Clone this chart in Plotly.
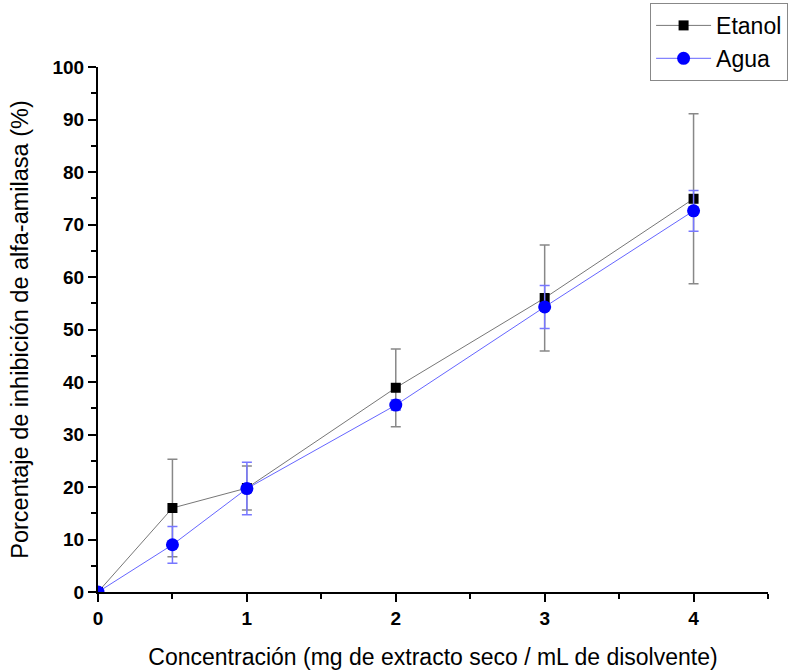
import plotly.graph_objects as go

x_vals = [0, 0.5, 1, 2, 3, 4]
etanol = [0, 16.0, 19.8, 38.9, 56.0, 74.9]
etanol_err = [0, 9.3, 4.2, 7.4, 10.1, 16.2]
agua = [0, 9.0, 19.7, 35.6, 54.3, 72.6]
agua_err = [0, 3.5, 5.0, 1.0, 4.1, 3.9]

x_ticks = [0, 1, 2, 3, 4]
y_ticks = [0, 10, 20, 30, 40, 50, 60, 70, 80, 90, 100]

fig = go.Figure()
fig.add_trace(go.Scatter(
    x=x_vals, y=etanol, name="Etanol", mode="lines+markers",
    line=dict(color="#777777", width=1),
    marker=dict(symbol="square", size=10, color="black"),
    error_y=dict(type="data", array=etanol_err, visible=True,
                 color="#888888", thickness=1.5, width=5),
))
fig.add_trace(go.Scatter(
    x=x_vals, y=agua, name="Agua", mode="lines+markers",
    line=dict(color="#6666ff", width=1),
    marker=dict(symbol="circle", size=13, color="#0000ff"),
    error_y=dict(type="data", array=agua_err, visible=True,
                 color="#7777ff", thickness=1.5, width=5),
))

fig.update_layout(
    width=795, height=671,
    margin=dict(l=98, r=27, t=67, b=79, autoexpand=False),
    paper_bgcolor="white", plot_bgcolor="white",
    font=dict(family="Liberation Sans", color="black"),
    showlegend=True,
    legend=dict(x=0.824, y=1.122, xanchor="left", yanchor="top",
                bordercolor="#888888", borderwidth=1, bgcolor="white",
                font=dict(family="Liberation Sans", size=23, color="black"),
                tracegroupgap=0, itemwidth=55),
    xaxis=dict(
        range=[0, 4.5], tickvals=x_ticks, ticktext=[str(v) for v in x_ticks],
        showgrid=False, zeroline=False, showline=True, linecolor="black", linewidth=2,
        ticks="outside", ticklen=8, tickwidth=2, tickcolor="black",
        minor=dict(tickvals=[0.5, 1.5, 2.5, 3.5, 4.5], ticks="outside", ticklen=5, tickwidth=2, tickcolor="black"),
        tickfont=dict(family="Liberation Sans", size=19, color="black", weight="bold"),
        title=dict(text="Concentración (mg de extracto seco / mL de disolvente)",
                   font=dict(family="Liberation Sans", size=23, color="black"), standoff=21),
    ),
    yaxis=dict(
        range=[0, 100], tickvals=y_ticks, ticktext=[str(v) for v in y_ticks],
        showgrid=False, zeroline=False, showline=True, linecolor="black", linewidth=2,
        ticks="outside", ticklen=8, tickwidth=2, tickcolor="black",
        minor=dict(tickvals=[5, 15, 25, 35, 45, 55, 65, 75, 85, 95], ticks="outside", ticklen=5, tickwidth=2, tickcolor="black"),
        tickfont=dict(family="Liberation Sans", size=19, color="black", weight="bold"),
        title=dict(text="Porcentaje de inhibición de alfa-amilasa (%)",
                   font=dict(family="Liberation Sans", size=23.5, color="black"), standoff=17),
    ),
)

fig.write_html("out.html")
